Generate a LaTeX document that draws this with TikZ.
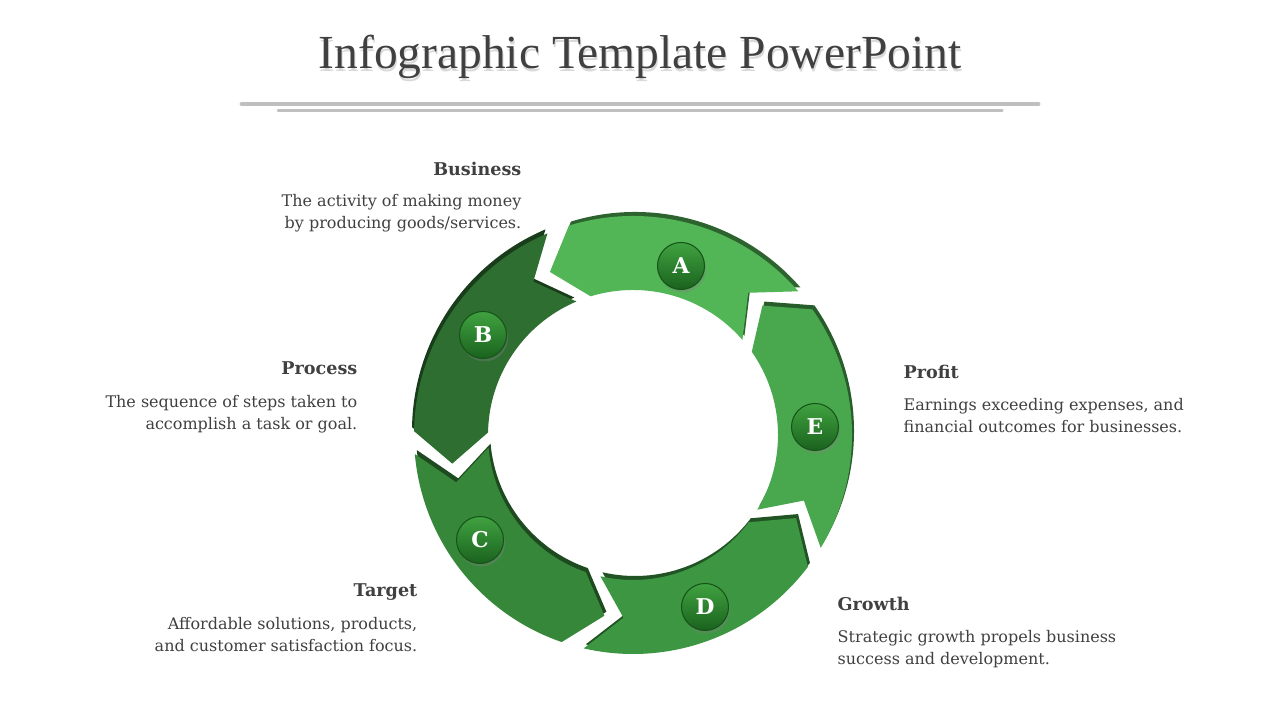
\documentclass[tikz,border=0pt]{standalone}
\usepackage{fontspec}
\setmainfont{DejaVu Serif}
\newfontfamily\titlefont{Liberation Serif}
\usetikzlibrary{shadows}

\definecolor{txtgray}{HTML}{404040}
\definecolor{linegray}{HTML}{BFBFBF}
\definecolor{segA}{RGB}{82,181,86}
\definecolor{segB}{RGB}{46,110,49}
\definecolor{segC}{RGB}{55,135,59}
\definecolor{segD}{RGB}{61,150,66}
\definecolor{segE}{RGB}{73,168,78}
\definecolor{ballTop}{RGB}{64,162,64}
\definecolor{ballBot}{RGB}{26,98,30}

\newcommand\rin{1.45}
\newcommand\rout{2.19}
\newcommand\rmid{1.83}
\newcommand\half{33}
\newcommand\dd{10}

% one arrow piece of the ring, #1 = middle angle
\newcommand\ringpiece[1]{%
  (#1-\half:\rout) arc[start angle=#1-\half, end angle=#1+\half, radius=\rout]
  -- (#1+\half+\dd:\rmid) -- (#1+\half:\rin)
  arc[start angle=#1+\half, end angle=#1-\half, radius=\rin]
  -- (#1-\half+\dd:\rmid) -- cycle}

\tikzset{
  ball/.style={circle, minimum size=0.47cm, inner sep=0pt,
    top color=ballTop, bottom color=ballBot, draw=ballBot!85!black, line width=0.3pt,
    drop shadow={opacity=0.35, shadow xshift=0.015cm, shadow yshift=-0.03cm},
    text=white, font=\bfseries\fontsize{6.2}{7}\selectfont},
  head/.style={font=\bfseries\fontsize{5}{6}\selectfont, text=txtgray, inner sep=0pt},
  body/.style={font=\fontsize{4.55}{6.26}\selectfont, text=txtgray, inner sep=0pt},
}

\begin{document}
\begin{tikzpicture}
\fill[white] (0,0) rectangle (12.8,7.2);
\useasboundingbox (0,0) rectangle (12.8,7.2);

% title and rules
\node[text=black!15, font=\titlefont\fontsize{13.5}{15}\selectfont] at (6.41,6.605) {Infographic Template PowerPoint};
\node[text=txtgray, font=\titlefont\fontsize{13.5}{15}\selectfont] (title) at (6.4,6.63) {Infographic Template PowerPoint};
\draw[linegray, line width=1.4pt, line cap=round] (2.42,6.16) -- (10.38,6.16);
\draw[linegray, line width=0.85pt, line cap=round] (2.78,6.09) -- (10.02,6.09);

% the ring
\begin{scope}[shift={(6.33,2.85)}]
  % sides
  \fill[segA!55!black, shift={(0.02,0.04)}] \ringpiece{74};
  \fill[segB!55!black, shift={(-0.02,0.04)}] \ringpiece{146};
  \fill[segC!55!black, shift={(0.02,0.04)}] \ringpiece{218};
  \fill[segD!55!black, shift={(0.02,0.04)}] \ringpiece{290};
  \fill[segE!55!black, shift={(0.02,0.04)}] \ringpiece{2};
  % faces
  \fill[segA] \ringpiece{74};
  \fill[segB] \ringpiece{146};
  \fill[segC] \ringpiece{218};
  \fill[segD] \ringpiece{290};
  \fill[segE] \ringpiece{2};
\end{scope}

% letters
\node[ball] (A) at (6.81,4.54) {A};
\node[ball] (B) at (4.83,3.85) {B};
\node[ball] (C) at (4.80,1.80) {C};
\node[ball] (D) at (7.05,1.13) {D};
\node[ball] (E) at (8.15,2.93) {E};

% texts
\node[head, anchor=base east] (bizhead) at (5.22,5.44) {Business};
\node[body, anchor=north east, align=right] (biztext) at (5.22,5.26)
  {The activity of making money\\by producing goods/services.};

\node[head, anchor=base east] (prochead) at (3.58,3.45) {Process};
\node[body, anchor=north east, align=right] (proctext) at (3.58,3.25)
  {The sequence of steps taken to\\accomplish a task or goal.};

\node[head, anchor=base east] (targhead) at (4.18,1.23) {Target};
\node[body, anchor=north east, align=right] (targtext) at (4.18,1.03)
  {Affordable solutions, products,\\and customer satisfaction focus.};

\node[head, anchor=base west] (profhead) at (9.03,3.41) {Profit};
\node[body, anchor=north west, align=left] (proftext) at (9.03,3.22)
  {Earnings exceeding expenses, and\\financial outcomes for businesses.};

\node[head, anchor=base west] (growhead) at (8.37,1.09) {Growth};
\node[body, anchor=north west, align=left] (growtext) at (8.37,0.90)
  {Strategic growth propels business\\success and development.};
\end{tikzpicture}
\end{document}
